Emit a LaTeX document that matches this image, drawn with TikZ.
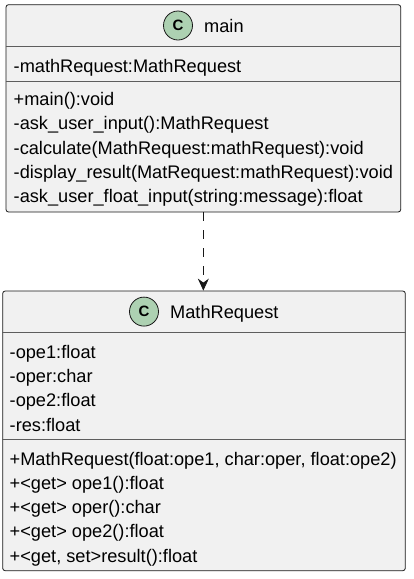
\documentclass[tikz,border=0pt]{standalone}
\usepackage{fontspec}
\setmainfont{Liberation Sans}
\usetikzlibrary{arrows.meta}
\definecolor{boxfill}{HTML}{F1F1F1}
\definecolor{boxline}{HTML}{181818}
\definecolor{spotfill}{HTML}{ADD1B2}

\begin{document}
\begin{tikzpicture}[x=1pt,y=-1pt]
	\tikzstyle{classbox}=[draw=boxline,fill=boxfill,rounded corners=2.5pt,line width=0.8pt,inner sep=0pt]
	\tikzstyle{spot}=[circle,draw=boxline,fill=spotfill,line width=0.8pt,minimum size=29pt,inner sep=0pt,font=\fontsize{15}{15}\selectfont\bfseries]
	\tikzstyle{member}=[anchor=base west,inner sep=0pt,font=\fontsize{18.2}{22}\selectfont]
	\tikzstyle{sep}=[draw=boxline!70,line width=0.8pt]
	\tikzstyle{dep}=[draw=boxline,line width=0.8pt,dash pattern=on 9pt off 9pt,-{Stealth[length=12pt,width=11pt,inset=4pt]}]
	\useasboundingbox (0,0) rectangle (413,579);
	% class main
	\node[classbox,minimum width=394.7pt,minimum height=207.3pt](main) at (203.35,108.35) {};
	\node[spot](mainC) at (178,25.5) {C};
	\node[member](mainT) at (204,32.3) {main};
	\draw[sep] (main.west |- 0,46.7) -- (main.east |- 0,46.7);
	\node[member](mainA1) at (13.5,72) {-mathRequest:MathRequest};
	\draw[sep] (main.west |- 0,81) -- (main.east |- 0,81);
	\node[member](mainM1) at (13.5,105.5) {+main():void};
	\node[member](mainM2) at (13.5,129.8) {-ask\_user\_input():MathRequest};
	\node[member](mainM3) at (13.5,154.1) {-calculate(MathRequest:mathRequest):void};
	\node[member](mainM4) at (13.5,178.4) {-display\_result(MatRequest:mathRequest):void};
	\node[member](mainM5) at (13.5,202.7) {-ask\_user\_float\_input(string:message):float};
	% class MathRequest
	\node[classbox,minimum width=402.6pt,minimum height=279.7pt](req) at (204,430.85) {};
	\node[spot](reqC) at (144,311.6) {C};
	\node[member](reqT) at (170,318.6) {MathRequest};
	\draw[sep] (req.west |- 0,332) -- (req.east |- 0,332);
	\node[member](reqA1) at (9.5,358.3) {-ope1:float};
	\node[member](reqA2) at (9.5,382.6) {-oper:char};
	\node[member](reqA3) at (9.5,406.9) {-ope2:float};
	\node[member](reqA4) at (9.5,431.2) {-res:float};
	\draw[sep] (req.west |- 0,439) -- (req.east |- 0,439);
	\node[member](reqM1) at (9.5,465) {+MathRequest(float:ope1, char:oper, float:ope2)};
	\node[member](reqM2) at (9.5,489.3) {+<get> ope1():float};
	\node[member](reqM3) at (9.5,513.6) {+<get> oper():char};
	\node[member](reqM4) at (9.5,537.9) {+<get> ope2():float};
	\node[member](reqM5) at (9.5,562.2) {+<get, set>result():float};
	% dependency
	\draw[dep] (main.south) -- (main.south |- req.north);
\end{tikzpicture}
\end{document}
